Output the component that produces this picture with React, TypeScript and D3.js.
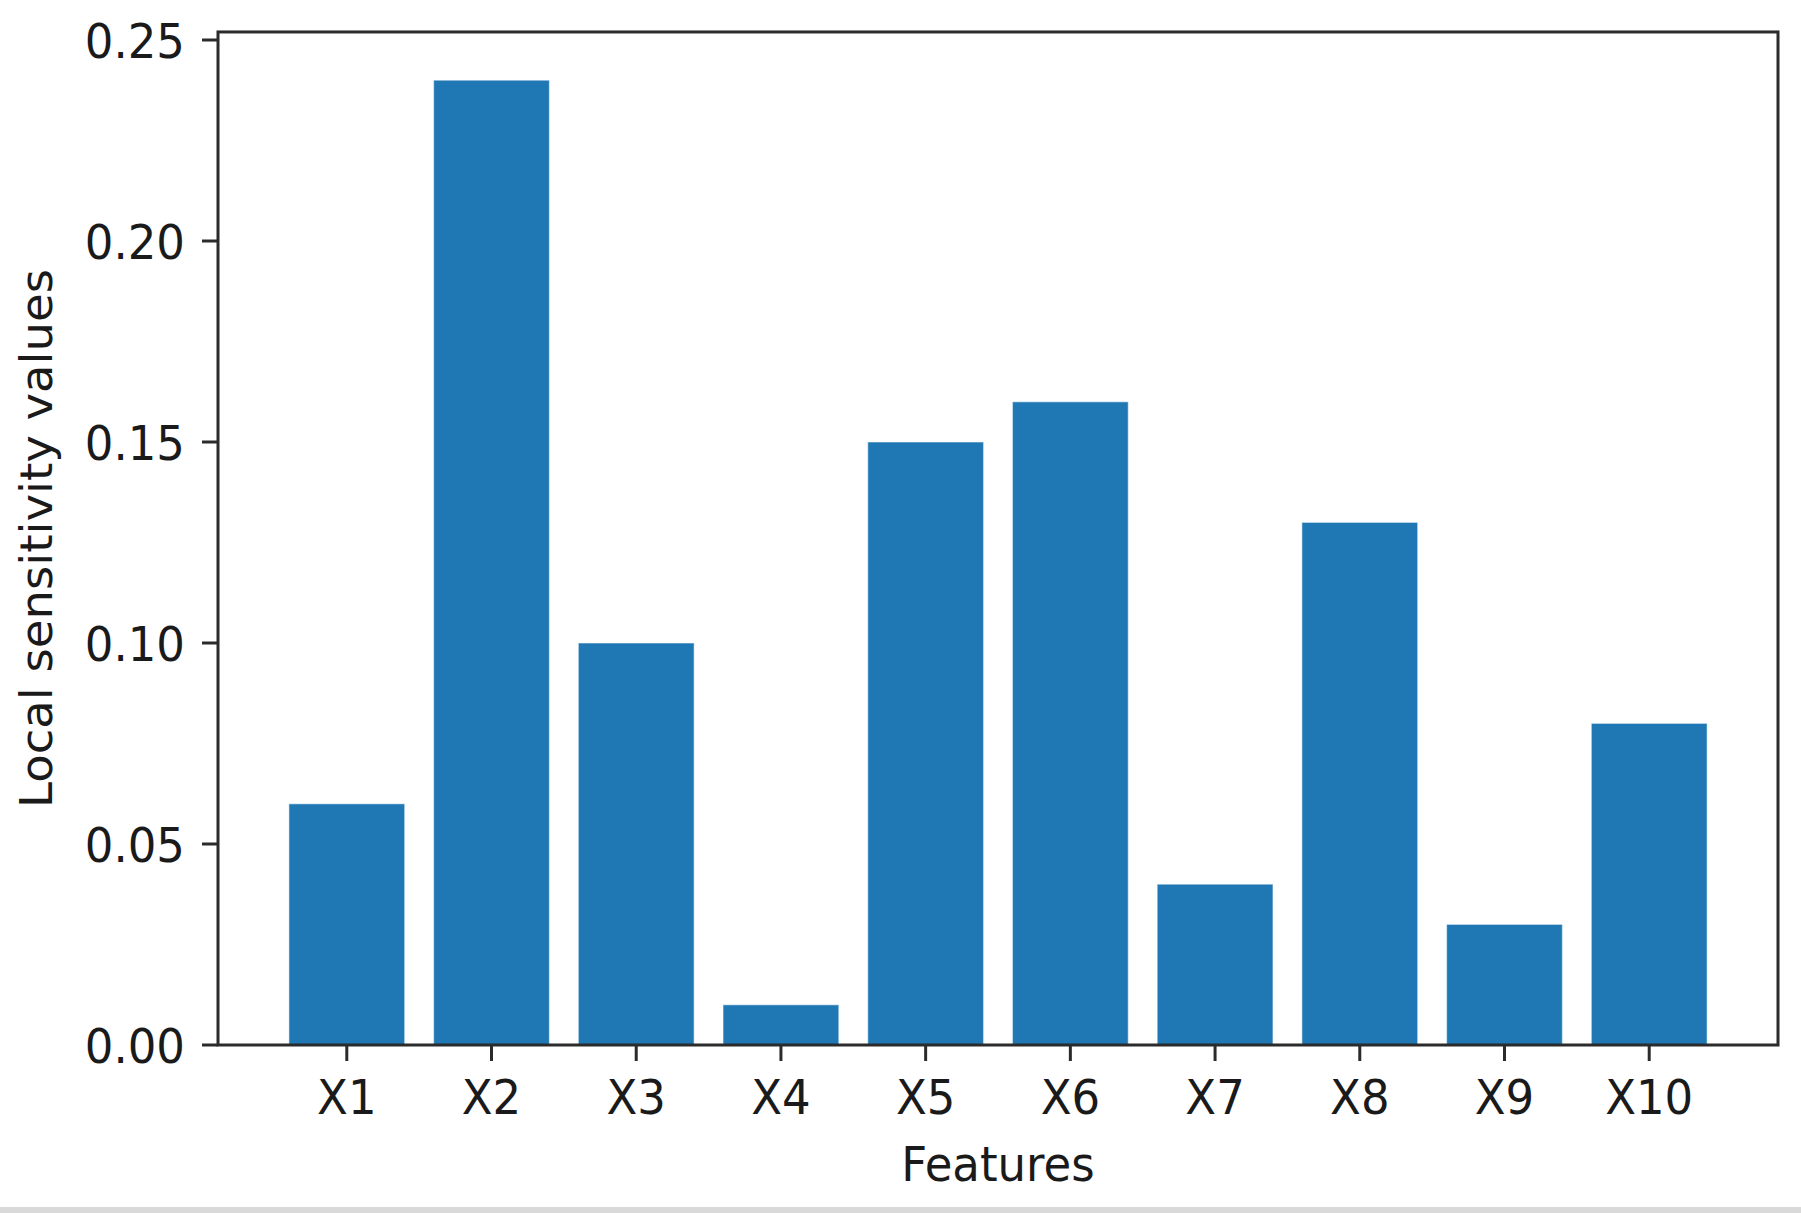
import React from "react";
import * as d3 from "d3";

const categories = ["X1", "X2", "X3", "X4", "X5", "X6", "X7", "X8", "X9", "X10"];
const values = [0.06, 0.24, 0.1, 0.01, 0.15, 0.16, 0.04, 0.13, 0.03, 0.08];
const yTicks = [0, 0.05, 0.1, 0.15, 0.2, 0.25];
const xLabel = "Features";
const yLabel = "Local sensitivity values";

const W = 1801;
const H = 1213;
const left = 218;
const right = 1778;
const bottom = 1045;
const yMax = d3.max(values)! * 1.05;
const FONT = "DejaVu Sans, sans-serif";
const FS = 45;
const SY = 1.06;
const SY_LABEL = 1.035;

export default function App() {
  const n = categories.length;
  const lo = -0.4, hi = n - 1 + 0.4;
  const m = (hi - lo) * 0.05;
  const x = d3.scaleLinear().domain([lo - m, hi + m]).range([left, right]);
  const y = d3.scaleLinear().domain([0, 0.25]).range([bottom, 40]);
  const top = y(yMax);
  const bw = x(0.8) - x(0);
  const fmt = d3.format(".2f");
  const axisColor = "#2b2b2b";
  const textColor = "#1a1a1a";

  return (
    <svg
      width={W}
      height={H}
      style={{ position: "absolute", left: 0, top: 0, background: "#fff" }}
      fontFamily={FONT}
    >
      <rect x={0} y={0} width={W} height={H} fill="#fff" />
      {values.map((v, i) => (
        <rect
          key={categories[i]}
          x={x(i) - bw / 2}
          y={y(v)}
          width={bw}
          height={bottom - y(v)}
          fill="#1f77b4"
          stroke="rgba(255,255,255,0.45)"
          strokeWidth={1.2}
        />
      ))}
      <rect
        x={left}
        y={top}
        width={right - left}
        height={bottom - top}
        fill="none"
        stroke={axisColor}
        strokeWidth={3}
      />
      {yTicks.map((t) => (
        <g key={t}>
          <line x1={left - 16} x2={left} y1={y(t)} y2={y(t)} stroke={axisColor} strokeWidth={3} />
          <text
            transform={`translate(${left - 33},${y(t) + 18}) scale(1,${SY})`}
            textAnchor="end"
            fontSize={FS}
            fill={textColor}
          >
            {fmt(t)}
          </text>
        </g>
      ))}
      {categories.map((c, i) => (
        <g key={c}>
          <line x1={x(i)} x2={x(i)} y1={bottom} y2={bottom + 16} stroke={axisColor} strokeWidth={3} />
          <text
            transform={`translate(${x(i)},${bottom + 69}) scale(1,${SY})`}
            textAnchor="middle"
            fontSize={FS}
            fill={textColor}
          >
            {c}
          </text>
        </g>
      ))}
      <text
        transform={`translate(${(left + right) / 2},${1181}) scale(1,${SY})`}
        textAnchor="middle"
        fontSize={FS}
        fill={textColor}
      >
        {xLabel}
      </text>
      <text
        transform={`translate(52,${(top + bottom) / 2}) scale(1,${SY_LABEL}) rotate(-90)`}
        textAnchor="middle"
        fontSize={FS}
        fill={textColor}
      >
        {yLabel}
      </text>
      <rect x={0} y={1207} width={W} height={H - 1207} fill="#d9d9d9" />
    </svg>
  );
}
